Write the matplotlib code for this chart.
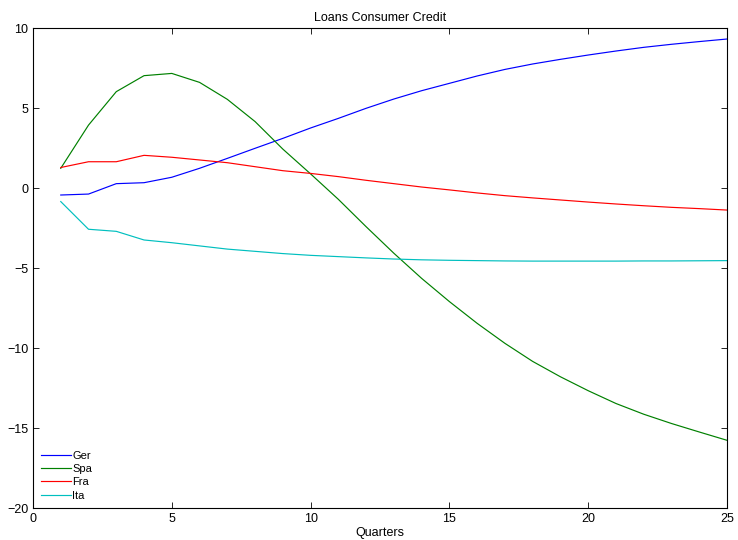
import matplotlib
matplotlib.use("Agg")
import matplotlib.pyplot as plt

plt.rcParams['font.family'] = ['Liberation Sans', 'DejaVu Sans']

quarters = list(range(1, 26))
ger = [-0.42, -0.36, 0.29, 0.35, 0.69, 1.25, 1.87, 2.5, 3.12, 3.77, 4.37, 5.0, 5.58, 6.1, 6.56,
       7.02, 7.43, 7.77, 8.06, 8.33, 8.58, 8.81, 9.0, 9.17, 9.33]
spa = [1.25, 3.95, 6.04, 7.04, 7.18, 6.62, 5.56, 4.17, 2.45, 0.9, -0.69, -2.4, -4.06, -5.63, -7.08,
       -8.44, -9.69, -10.82, -11.78, -12.65, -13.45, -14.12, -14.7, -15.23, -15.75]
fra = [1.3, 1.66, 1.66, 2.06, 1.94, 1.77, 1.6, 1.35, 1.1, 0.93, 0.73, 0.5, 0.29, 0.08, -0.1,
       -0.29, -0.46, -0.6, -0.73, -0.86, -0.98, -1.09, -1.19, -1.27, -1.36]
ita = [-0.83, -2.56, -2.69, -3.23, -3.4, -3.6, -3.8, -3.94, -4.08, -4.19, -4.27, -4.35, -4.42, -4.47, -4.5,
       -4.52, -4.54, -4.55, -4.55, -4.55, -4.55, -4.54, -4.54, -4.53, -4.52]
series_names = ["Ger", "Spa", "Fra", "Ita"]
colors = ["#0000ff", "#008000", "#ff0000", "#00bfbf"]
title = "Loans Consumer Credit"
xlabel = "Quarters"

fig = plt.figure(figsize=(7.38, 5.4), dpi=100)
ax = fig.add_axes([33/738, 1-508.3/540, (727-33)/738, (508.3-28.3)/540])

for name, vals, c in zip(series_names, [ger, spa, fra, ita], colors):
    ax.plot(quarters, vals, color=c, lw=0.85, label=name)

ax.set_xlim(0, 25)
ax.set_ylim(-20, 10)
ax.set_xticks([0, 5, 10, 15, 20, 25])
ax.set_yticks([-20, -15, -10, -5, 0, 5, 10])
ax.tick_params(direction='in', length=4.5, width=0.6, labelsize=9, top=True, right=True)
for s in ax.spines.values():
    s.set_linewidth(0.8)
ax.set_title(title, fontsize=9, pad=5)
ax.set_xlabel(xlabel, fontsize=9, labelpad=1)

leg = ax.legend(loc='lower left', frameon=False, fontsize=8, handlelength=2.7,
                handletextpad=0.15, labelspacing=0.3, borderaxespad=0.3,
                bbox_to_anchor=(0.0, 0.0))

fig.savefig("out.png", dpi=100)
